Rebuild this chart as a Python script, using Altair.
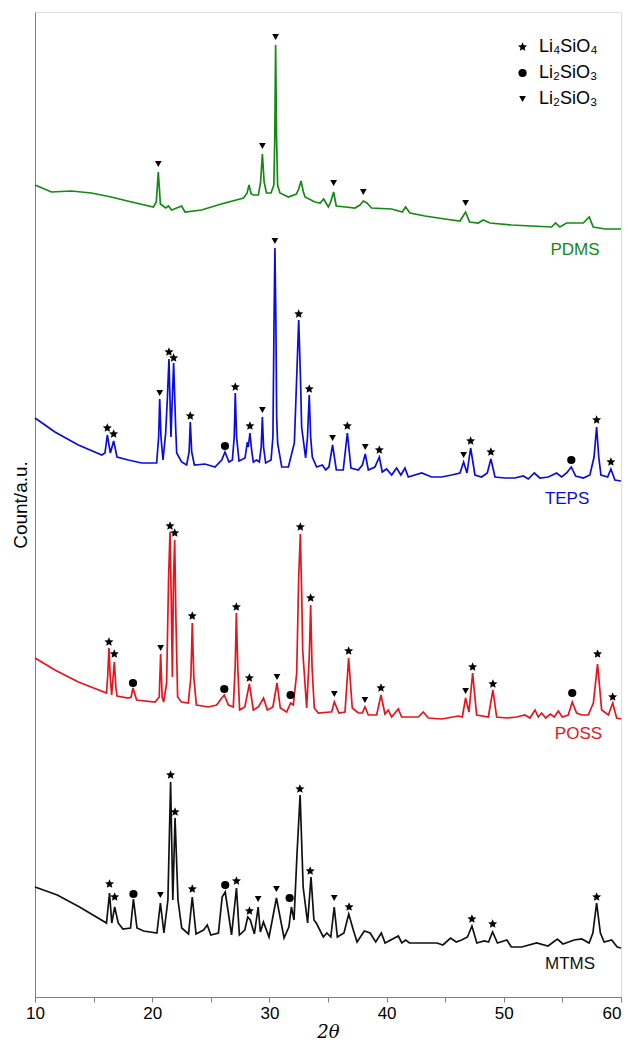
import altair as alt
import pandas as pd

SERIES = ["PDMS", "TEPS", "POSS", "MTMS"]
COLORS = ["#138a13", "#0b0be0", "#e8141c", "#111111"]

PHASES = ["Li4SiO4", "Li2SiO3-a", "Li2SiO3-b"]
STAR = ("M0,-1L0.265,-0.364L0.951,-0.309L0.428,0.139L0.588,0.809L0,0.45"
        "L-0.588,0.809L-0.428,0.139L-0.951,-0.309L-0.265,-0.364Z")

X_TICKS = [10, 15, 20, 25, 30, 35, 40, 45, 50, 55, 60]

# ---------------- PDMS ----------------
PDMS_X = [10.0, 11.4, 13.1, 14.8, 16.5, 18.25, 20.1, 20.35, 20.52, 20.7, 21.15, 21.38, 21.66,
          22.51, 22.8, 24.2, 25.9, 27.8, 28.1, 28.26, 28.45, 28.63, 29.06, 29.25, 29.4, 29.55,
          29.75, 30.14, 30.38, 30.46, 30.53, 30.61, 30.7, 30.9, 31.62, 32.3, 32.5, 32.7, 32.9,
          33.04, 33.89, 34.32, 34.63, 35.03, 35.2, 35.48, 35.7, 36.5, 37.3, 37.73, 38.01, 38.32,
          38.72, 40.43, 41.34, 41.62, 41.99, 43.27, 44.98, 46.26, 46.74, 47.08, 47.82, 48.25,
          48.82, 50.67, 52.37, 54.08, 54.42, 54.79, 55.36, 56.07, 56.78, 57.29, 57.63, 58.63, 60.0]
PDMS_Y = [812, 805, 806, 804, 800, 795, 790, 795, 825, 793, 789, 791, 787,
          791, 785, 787, 793, 799, 804, 812, 803, 802, 802, 815, 843, 815,
          804, 804, 812, 860, 952, 860, 812, 804, 800, 803, 808, 816, 805,
          800, 795, 794, 798, 790, 794, 805, 791, 790, 789, 792, 796, 794,
          789, 788, 785, 790, 784, 781, 778, 776, 785, 775, 774, 777,
          774, 772, 771, 770, 774, 770, 774, 774, 774, 780, 770, 768, 768]
PDMS_MK_X = [20.52, 29.4, 30.53, 35.48, 38.01, 46.74]
PDMS_MK_Y = [833, 851, 960, 814, 805, 794]
PDMS_MK_P = ["Li2SiO3-b"] * 6

# ---------------- TEPS ----------------
TEPS_X = [10.0, 11.7, 13.7, 15.7, 15.97, 16.17, 16.43, 16.71, 17.0, 17.96, 19.1, 20.38, 20.55,
          20.64, 20.75, 20.92, 21.15, 21.3, 21.43, 21.6, 21.72, 21.83, 22.0, 22.09, 22.51, 22.94,
          23.15, 23.25, 23.37, 23.6, 24.5, 25.36, 25.93, 26.21, 26.55, 26.84, 27.0, 27.09, 27.2,
          27.41, 27.92, 28.12, 28.2, 28.34, 28.5, 28.63, 28.91, 29.14, 29.3, 29.4, 29.5, 29.68,
          30.14, 30.3, 30.4, 30.47, 30.55, 30.62, 30.7, 31.05, 31.62, 32.13, 32.3, 32.5, 32.65,
          32.75, 33.09, 33.25, 33.4, 33.52, 33.66, 34.03, 34.52, 34.8, 35.08, 35.39, 35.71, 36.3,
          36.65, 36.96, 37.58, 37.93, 38.18, 38.44, 39.0, 39.38, 39.63, 40.0, 40.43, 40.85, 41.22,
          41.57, 41.85, 42.99, 43.84, 44.7, 45.55, 46.26, 46.57, 46.86, 47.17, 47.54, 48.11, 48.59,
          48.9, 49.25, 50.1, 50.95, 51.66, 52.09, 52.6, 53.08, 53.8, 54.5, 54.93, 55.36, 55.76,
          56.13, 56.78, 57.35, 57.7, 57.92, 58.1, 58.29, 58.86, 59.14, 59.48, 60.0]
TEPS_Y = [579, 565, 552, 542, 544, 562, 544, 556, 540, 537, 534, 534, 560,
          598, 560, 537, 564, 600, 638, 560, 600, 634, 570, 544, 535, 532,
          545, 575, 545, 532, 533, 530, 537, 545, 535, 537, 560, 604, 560,
          536, 539, 555, 550, 564, 545, 535, 537, 535, 550, 580, 550, 534,
          537, 560, 680, 749, 680, 580, 554, 530, 530, 554, 610, 677, 620,
          570, 539, 560, 602, 560, 540, 530, 532, 527, 530, 552, 527, 527,
          564, 529, 527, 532, 543, 527, 530, 540, 525, 528, 522, 529, 522,
          529, 520, 524, 520, 520, 522, 524, 535, 524, 549, 522, 520, 524,
          538, 520, 519, 519, 521, 518, 524, 519, 520, 524, 520, 524, 530,
          521, 519, 522, 540, 570, 540, 522, 520, 528, 517, 516]
TEPS_MK_X = [16.17, 16.71, 20.64, 21.43, 21.83, 23.25, 26.21, 27.09, 28.34, 29.4, 30.47, 32.5,
             33.4, 35.39, 36.65, 38.18, 39.38, 46.57, 47.17, 48.9, 55.76, 57.92, 59.14]
TEPS_MK_Y = [569, 563, 604, 645, 639, 581, 551, 610, 571, 587, 756, 683,
             608, 559, 571, 550, 547, 542, 556, 545, 537, 577, 535]
TEPS_MK_P = ["Li4SiO4", "Li4SiO4", "Li2SiO3-b", "Li4SiO4", "Li4SiO4", "Li4SiO4", "Li2SiO3-a",
             "Li4SiO4", "Li4SiO4", "Li2SiO3-b", "Li2SiO3-b", "Li4SiO4", "Li4SiO4", "Li2SiO3-b",
             "Li4SiO4", "Li2SiO3-b", "Li4SiO4", "Li2SiO3-b", "Li4SiO4", "Li4SiO4", "Li2SiO3-a",
             "Li4SiO4", "Li4SiO4"]

# ---------------- POSS ----------------
POSS_X = [10.0, 11.7, 13.7, 16.1, 16.2, 16.31, 16.42, 16.54, 16.77, 16.9, 17.0, 17.96, 18.2,
          18.36, 18.67, 20.24, 20.6, 20.72, 20.85, 20.98, 21.23, 21.4, 21.52, 21.62, 21.72, 21.82,
          21.92, 22.02, 22.17, 22.5, 23.08, 23.3, 23.42, 23.55, 23.77, 24.79, 25.5, 25.93, 26.15,
          26.5, 26.92, 27.08, 27.18, 27.3, 27.46, 27.9, 28.29, 28.63, 29.06, 29.5, 29.82, 30.3,
          30.65, 30.93, 31.47, 31.81, 32.04, 32.33, 32.5, 32.64, 32.76, 32.84, 33.18, 33.4, 33.52,
          33.64, 33.83, 34.17, 35.17, 35.31, 35.54, 35.93, 36.45, 36.76, 37.07, 37.58, 37.93, 38.15,
          38.44, 39.15, 39.52, 39.86, 40.14, 40.43, 41.0, 41.28, 42.7, 43.13, 43.56, 44.7, 46.12,
          46.46, 46.74, 47.03, 47.34, 47.68, 48.68, 49.07, 49.39, 50.24, 51.1, 51.8, 52.23, 52.66,
          52.94, 53.23, 53.57, 53.97, 54.31, 54.65, 54.99, 55.5, 55.84, 56.21, 56.64, 57.21, 57.64,
          58.0, 58.35, 58.92, 59.29, 59.63, 60.0]
POSS_Y = [339, 327, 315, 304, 320, 349, 320, 302, 335, 310, 301, 299, 300,
          309, 297, 295, 300, 343, 300, 295, 314, 420, 465, 400, 320, 420,
          457, 380, 300, 295, 294, 320, 374, 320, 292, 290, 292, 299, 302,
          292, 290, 330, 384, 330, 287, 290, 313, 287, 290, 299, 287, 290,
          314, 289, 285, 294, 292, 324, 420, 463, 400, 347, 289, 340, 392,
          330, 289, 284, 285, 285, 295, 284, 285, 339, 289, 284, 284, 290,
          282, 282, 302, 283, 287, 280, 288, 280, 280, 285, 279, 278, 281,
          280, 299, 285, 324, 282, 280, 307, 280, 279, 280, 282, 279, 287,
          280, 284, 279, 283, 280, 286, 280, 282, 295, 284, 282, 282, 294,
          333, 287, 282, 294, 279, 278]
POSS_MK_X = [16.31, 16.77, 18.36, 20.72, 21.52, 21.92, 23.42, 26.15, 27.18, 28.29, 30.65, 31.81,
             32.64, 33.52, 35.54, 36.76, 38.15, 39.52, 46.74, 47.34, 49.07, 55.84, 58.0, 59.29]
POSS_MK_Y = [355, 343, 314, 349, 471, 464, 381, 308, 390, 319, 320, 302,
             470, 399, 303, 346, 297, 309, 306, 330, 313, 304, 343, 300]
POSS_MK_P = ["Li4SiO4", "Li4SiO4", "Li2SiO3-a", "Li2SiO3-b", "Li4SiO4", "Li4SiO4", "Li4SiO4",
             "Li2SiO3-a", "Li4SiO4", "Li4SiO4", "Li2SiO3-b", "Li2SiO3-a", "Li4SiO4", "Li4SiO4",
             "Li2SiO3-b", "Li4SiO4", "Li2SiO3-b", "Li4SiO4", "Li2SiO3-b", "Li4SiO4", "Li4SiO4",
             "Li2SiO3-a", "Li4SiO4", "Li4SiO4"]

# ---------------- MTMS ----------------
MTMS_X = [10.0, 11.9, 13.8, 16.1, 16.36, 16.55, 16.8, 17.1, 17.5, 18.15, 18.4, 18.7, 19.27,
          20.4, 20.7, 21.0, 21.34, 21.57, 21.76, 21.95, 22.2, 22.52, 23.1, 23.42, 23.74, 24.38,
          24.7, 25.0, 25.65, 25.97, 26.23, 26.55, 26.77, 27.19, 27.44, 27.9, 28.15, 28.37, 28.72,
          29.04, 29.23, 29.49, 29.97, 30.6, 31.25, 31.66, 31.88, 32.1, 32.36, 32.62, 32.88, 33.26,
          33.55, 33.8, 34.0, 34.6, 34.9, 35.24, 35.53, 35.8, 36.36, 36.77, 37.16, 37.48, 38.1,
          38.6, 39.07, 39.55, 39.87, 41.0, 41.3, 41.63, 41.95, 43.2, 44.3, 44.8, 45.46, 45.94,
          46.4, 46.9, 47.28, 47.7, 48.34, 48.7, 49.04, 49.46, 50.26, 50.64, 51.53, 52.8, 53.77,
          54.57, 55.05, 56.0, 56.65, 57.28, 57.6, 57.92, 58.24, 58.56, 59.2, 59.68, 60.0]
MTMS_Y = [110, 102, 90, 74, 104, 74, 90, 74, 68, 69, 98, 69, 66,
          64, 94, 64, 97, 215, 97, 179, 97, 69, 63, 100, 63, 67,
          72, 62, 64, 100, 105, 80, 62, 109, 62, 67, 80, 77, 63,
          90, 65, 75, 60, 99, 59, 70, 90, 77, 144, 202, 110, 74,
          120, 77, 74, 60, 64, 60, 90, 60, 64, 83, 67, 55, 66,
          64, 55, 64, 54, 61, 54, 57, 54, 54, 54, 52, 59, 55,
          57, 60, 71, 54, 56, 55, 65, 54, 57, 50, 50, 54, 51,
          58, 53, 57, 58, 54, 64, 94, 64, 55, 57, 50, 49]
MTMS_MK_X = [16.36, 16.8, 18.4, 20.7, 21.57, 21.95, 23.42, 26.23, 27.19, 28.3, 29.04, 30.6,
             31.73, 32.6, 33.48, 35.53, 36.8, 47.28, 49.05, 57.92]
MTMS_MK_Y = [113, 100, 103, 102, 222, 185, 108, 112, 116, 86, 98, 108,
             99, 208, 126, 99, 90, 78, 73, 100]
MTMS_MK_P = ["Li4SiO4", "Li4SiO4", "Li2SiO3-a", "Li2SiO3-b", "Li4SiO4", "Li4SiO4", "Li4SiO4",
             "Li2SiO3-a", "Li4SiO4", "Li4SiO4", "Li2SiO3-b", "Li2SiO3-b", "Li2SiO3-a", "Li4SiO4",
             "Li4SiO4", "Li2SiO3-b", "Li4SiO4", "Li4SiO4", "Li4SiO4", "Li4SiO4"]

# legend entries (phase key, label)
LEGEND_LABELS = ["Li₄SiO₄", "Li₂SiO₃", "Li₂SiO₃"]

# series name labels (anchor in data units)
LABEL_X = [56.07, 55.4, 56.37, 55.65]
LABEL_Y = [747, 498, 263, 33]

# legend anchor (data units): symbol column x, text column x, row y's
LEG_SYM_X = 51.6
LEG_TXT_X = 53.0
LEG_ROW_Y = [950, 924, 898]

traces = {"PDMS": (PDMS_X, PDMS_Y), "TEPS": (TEPS_X, TEPS_Y),
          "POSS": (POSS_X, POSS_Y), "MTMS": (MTMS_X, MTMS_Y)}
marks = {"PDMS": (PDMS_MK_X, PDMS_MK_Y, PDMS_MK_P), "TEPS": (TEPS_MK_X, TEPS_MK_Y, TEPS_MK_P),
         "POSS": (POSS_MK_X, POSS_MK_Y, POSS_MK_P), "MTMS": (MTMS_MK_X, MTMS_MK_Y, MTMS_MK_P)}

rows = []
for s, (xs, ys) in traces.items():
    assert len(xs) == len(ys), s
    for i, (a, b) in enumerate(zip(xs, ys)):
        rows.append({"series": s, "x": a, "y": b, "i": i})
df_lines = pd.DataFrame(rows)

mrows = []
for s, (xs, ys, ps) in marks.items():
    assert len(xs) == len(ys) == len(ps), s
    for a, b, p in zip(xs, ys, ps):
        mrows.append({"series": s, "x": a, "y": b, "phase": p})
df_marks = pd.DataFrame(mrows)

df_legend = pd.DataFrame({"phase": PHASES, "label": LEGEND_LABELS,
                          "y": LEG_ROW_Y, "sx": [LEG_SYM_X] * 3, "tx": [LEG_TXT_X] * 3})

df_labels = pd.DataFrame({"series": SERIES, "x": LABEL_X, "y": LABEL_Y})

FONT = "Liberation Sans"
xs_ = alt.Scale(domain=[10, 60], nice=False, zero=False)
ys_ = alt.Scale(domain=[0, 985], nice=False, zero=True)
color = alt.Color("series:N", scale=alt.Scale(domain=SERIES, range=COLORS), legend=None)
shape = alt.Shape("phase:N", scale=alt.Scale(domain=PHASES, range=[STAR, "circle", "triangle-down"]),
                  legend=None)
size = alt.Size("phase:N", scale=alt.Scale(domain=PHASES, range=[90, 45, 56]), legend=None)

x_enc = alt.X("x:Q", scale=xs_, title="2θ",
              axis=alt.Axis(values=X_TICKS, labelExpr="datum.value % 10 === 0 ? datum.label : ''",
                            labelAlign=alt.ExprRef(expr="datum.value >= 60 ? 'right' : 'center'"),
                            grid=False, tickSize=5, tickColor="#808080", domainColor="#808080",
                            labelFontSize=17, labelFont=FONT, labelColor="black", labelPadding=3,
                            labelFlush=False, titleFont="DejaVu Serif", titleFontSize=18,
                            titleFontStyle="italic", titleFontWeight="normal", titleColor="black",
                            titlePadding=2))
y_enc = alt.Y("y:Q", scale=ys_, title="Count/a.u.",
              axis=alt.Axis(labels=False, ticks=False, grid=False, domainColor="#808080",
                            titleFont=FONT, titleFontSize=19, titleFontWeight="normal",
                            titleColor="black", titlePadding=5))

lines = alt.Chart(df_lines).mark_line(strokeWidth=1.7).encode(
    x=x_enc, y=y_enc, color=color, detail="series:N", order="i:Q")

points = alt.Chart(df_marks).mark_point(filled=True, opacity=1, color="black").encode(
    x="x:Q", y="y:Q", shape=shape, size=size)

labels = alt.Chart(df_labels).mark_text(fontSize=17, font=FONT).encode(
    x="x:Q", y="y:Q", text="series:N", color=color)

leg_sym = alt.Chart(df_legend).mark_point(filled=True, opacity=1, color="black").encode(
    x="sx:Q", y="y:Q", shape=shape, size=size)

leg_txt = alt.Chart(df_legend).mark_text(fontSize=18, font=FONT, align="left",
                                         baseline="middle", color="black").encode(
    x="tx:Q", y="y:Q", text="label:N")

chart = alt.layer(lines, points, labels, leg_sym, leg_txt).properties(
    width=586, height=985,
    padding={"left": 35, "top": 12, "right": 7, "bottom": 45},
    autosize=alt.AutoSizeParams(type="none"),
).configure_view(stroke="#808080", strokeWidth=1).configure(background="white")

chart.save("out.html", embed_options={"renderer": "svg", "actions": False})
